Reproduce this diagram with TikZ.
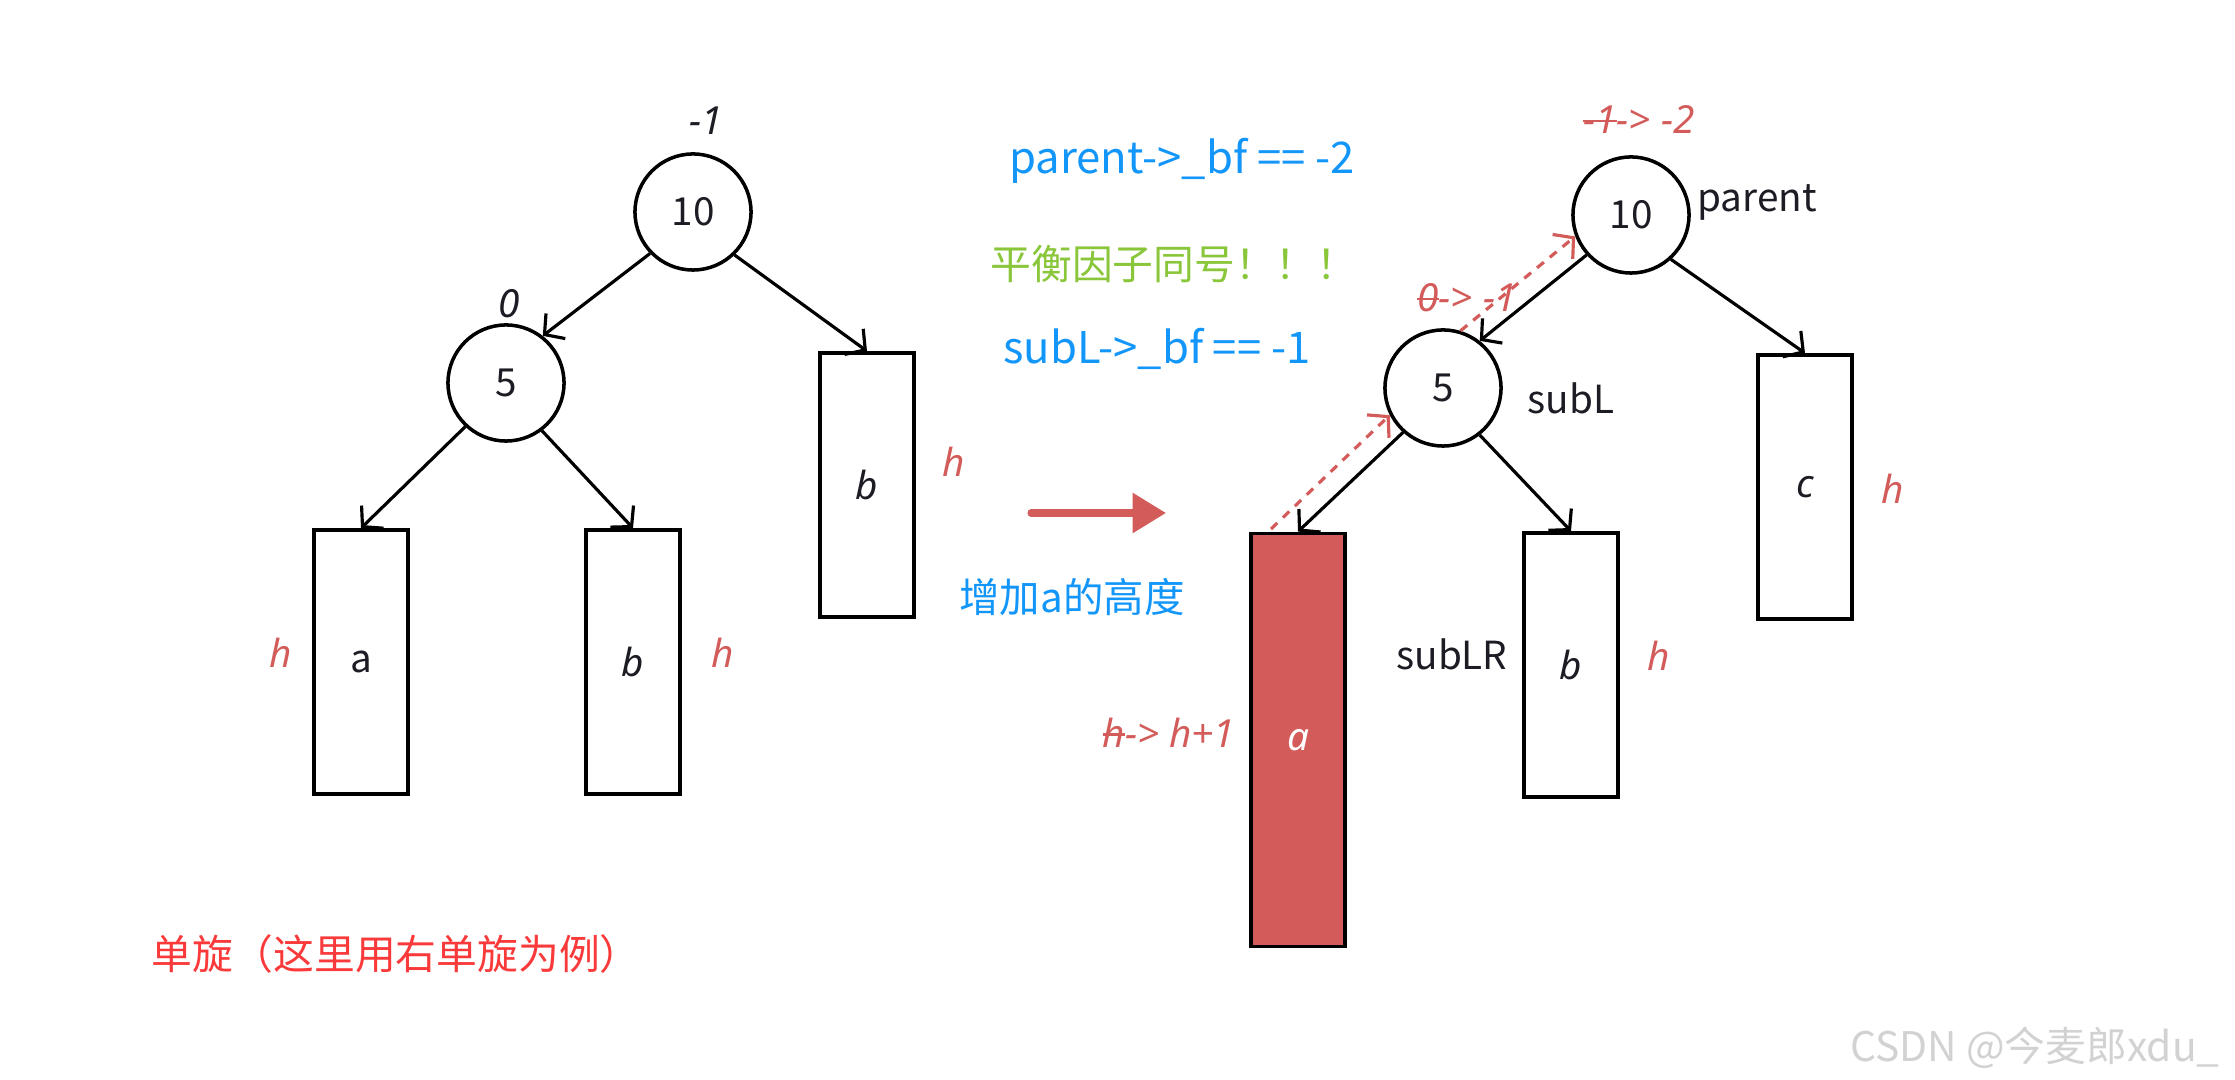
\documentclass[tikz,border=0pt]{standalone}
\usepackage{fontspec}
\setmainfont{Noto Sans CJK SC}
\newfontfamily\latinfont{Noto Sans}
\usetikzlibrary{arrows.meta}
\definecolor{hred}{RGB}{211,92,90}
\definecolor{infoblue}{RGB}{18,150,250}
\definecolor{notegreen}{RGB}{138,198,58}
\definecolor{titlered}{RGB}{250,58,58}
\definecolor{markgray}{RGB}{210,210,210}
\definecolor{ink}{RGB}{28,28,36}
\newcommand\crossout[1]{\setbox0=\hbox{#1}\rlap{\rule[0.3em]{\wd0}{0.07em}}\box0}
\newcommand\itl[1]{{\latinfont\itshape #1}}
\tikzset{
  >={Straight Barb[length=4pt,width=9pt]},
  tnode/.style={circle,draw=black,line width=1pt,minimum size=1.16cm,inner sep=0pt,text=ink,font=\fontsize{11}{13}\selectfont},
  subtree/.style={rectangle,draw=black,line width=1pt,minimum width=0.94cm,minimum height=2.64cm,inner sep=0pt,text=ink,font=\fontsize{11}{13}\selectfont},
  link/.style={->,line width=0.9pt},
  trace/.style={->,hred,line width=0.9pt,dash pattern=on 2.5pt off 2.2pt},
  hlabel/.style={text=hred,font=\fontsize{11}{13}\selectfont\latinfont\itshape},
  bflabel/.style={text=ink,font=\fontsize{11}{13}\selectfont\latinfont\itshape},
  tag/.style={text=ink,font=\fontsize{11}{13}\selectfont},
  info/.style={text=infoblue,font=\fontsize{12.4}{14}\selectfont}
}
\begin{document}
\begin{tikzpicture}[x=0.01cm,y=-0.01cm]
  \useasboundingbox[fill=white] (0,0) rectangle (2235,1080);

  \node[tnode] (p0) at (693,212) {10};
  \node[tnode] (l0) at (506,383) {5};
  \node[subtree] (a0) at (361,662) {a};
  \node[subtree] (b0) at (633,662) {\itl{b}};
  \node[subtree] (c0) at (867,485) {\itl{b}};
  \node[bflabel] (bfp0) at (706,121) {-1};
  \node[bflabel] (bfl0) at (509,304) {0};
  \node[hlabel] (ha0) at (281,653) {h};
  \node[hlabel] (hb0) at (723,653) {h};
  \node[hlabel] (hc0) at (954,462) {h};
  \draw[link] (p0.224) -- (l0.52);
  \draw[link] (p0.314) -- (c0.north);
  \draw[link] (l0.227) -- (a0.north);
  \draw[link] (l0.307) -- (b0.north);

  \node[info] (bfpar) at (1182,161) {parent->\_bf == -2};
  \node[text=notegreen,font=\fontsize{11.6}{13}\selectfont] (same) at (1174,264) {平衡因子同号！！！};
  \node[info] (bfsub) at (1157,349) {subL->\_bf == -1};
  \coordinate (go) at (1031,513);
  \coordinate (gone) at (1166,513);
  \draw[hred,line width=2pt,line cap=round,-{Triangle[length=9.5pt,width=11pt]}] (go) -- (gone);
  \node[info,font=\fontsize{11.5}{13}\selectfont] (grow) at (1072,597) {增加a的高度};

  \node[tnode] (p1) at (1631,215) {10};
  \node[tnode] (l1) at (1443,388) {5};
  \node[subtree,fill=hred,minimum height=4.13cm,text=white] (a1) at (1298,740) {\itl{a}};
  \node[subtree] (b1) at (1571,665) {\itl{b}};
  \node[subtree] (c1) at (1805,487) {\itl{c}};
  \node[hlabel] (bfp1) at (1639,120) {\crossout{-1} -> -2};
  \node[hlabel] (bfl1) at (1467,298) {\crossout{0} -> -1};
  \node[hlabel] (ha1) at (1169,733) {\crossout{h} -> h+1};
  \node[hlabel] (hb1) at (1659,656) {h};
  \node[hlabel] (hc1) at (1893,489) {h};
  \node[tag] (tp) at (1757,202) {parent};
  \node[tag] (tl) at (1571,398) {subL};
  \node[tag] (tlr) at (1452,654) {subLR};
  \draw[link] (p1.222) -- (l1.52);
  \draw[link] (p1.312) -- (c1.north);
  \draw[link] (l1.228) -- (a1.north);
  \draw[link] (l1.308) -- (b1.north);
  \coordinate (rise) at (1271,529);
  \draw[trace] (rise) -- (l1.207);
  \draw[trace] (l1.73) -- (p1.201);

  \node[text=titlered,font=\fontsize{11.6}{13}\selectfont] (title) at (396,954) {单旋（这里用右单旋为例）};
  \node[text=markgray,font=\fontsize{11.6}{14}\selectfont,anchor=east] (mark) at (2232,1048) {CSDN @今麦郎xdu\_};
\end{tikzpicture}
\end{document}
